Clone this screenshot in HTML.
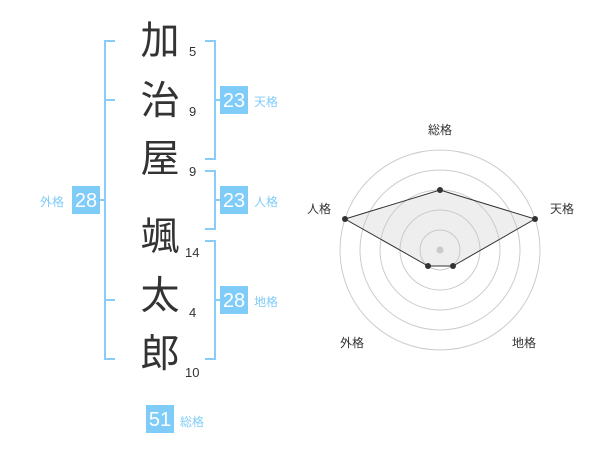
<!DOCTYPE html>
<html><head><meta charset="utf-8"><style>
body{margin:0;background:#fff;width:600px;height:470px;overflow:hidden;position:relative;font-family:"Liberation Sans","Noto Sans CJK JP",sans-serif}
.k{position:absolute;left:138px;width:44px;text-align:center;font-size:39px;line-height:44px;color:#333}
.n{position:absolute;font-size:13px;color:#333;line-height:14px}
.b{position:absolute;width:28px;height:28px;background:#80ccf8;color:#fff;font-size:20px;line-height:30px;text-align:center}
.l{position:absolute;font-size:12px;color:#80ccf8;line-height:14px}
</style></head><body>
<svg width="600" height="470" style="position:absolute;left:0;top:0">
<g stroke="#88cdf8" stroke-width="2" fill="none">
<path d="M205 41H215V159H205M215 100H220"/>
<path d="M205 171H215V229H205M215 200H220"/>
<path d="M205 241H215V359H205M215 300H220"/>
<path d="M115 41H105V359H115M105 100H115M105 300H115M105 200H100"/>
</g>
<g fill="none" stroke="#ccc" stroke-width="1">
<circle cx="440" cy="250" r="100"/><circle cx="440" cy="250" r="80"/><circle cx="440" cy="250" r="60"/><circle cx="440" cy="250" r="40"/><circle cx="440" cy="250" r="20"/>
</g>
<circle cx="440" cy="250" r="3.5" fill="#ccc"/>
<polygon points="440,190 535,219 453,266 428,266 345,219" fill="rgba(200,200,200,0.3)" stroke="#333" stroke-width="1"/>
<g fill="#333"><circle cx="440" cy="190" r="3"/><circle cx="535" cy="219" r="3"/><circle cx="453" cy="266" r="3"/><circle cx="428" cy="266" r="3"/><circle cx="345" cy="219" r="3"/></g>
<g font-size="12" fill="#333" text-anchor="middle" font-family="Liberation Sans, Noto Sans CJK JP, sans-serif">
<text x="440" y="134">総格</text><text x="562" y="213">天格</text><text x="319" y="213">人格</text><text x="524" y="347">地格</text><text x="352" y="347">外格</text>
</g>
</svg>
<div class="k" style="top:20px">加</div>
<div class="k" style="top:80px">治</div>
<div class="k" style="top:138px">屋</div>
<div class="k" style="top:216px">颯</div>
<div class="k" style="top:275px">太</div>
<div class="k" style="top:333px">郎</div>
<div class="n" style="left:189px;top:45px">5</div>
<div class="n" style="left:189px;top:105px">9</div>
<div class="n" style="left:189px;top:165px">9</div>
<div class="n" style="left:185px;top:246px">14</div>
<div class="n" style="left:189px;top:306px">4</div>
<div class="n" style="left:185px;top:366px">10</div>
<div class="b" style="left:220px;top:86px">23</div><div class="l" style="left:254px;top:95px">天格</div>
<div class="b" style="left:220px;top:186px">23</div><div class="l" style="left:254px;top:195px">人格</div>
<div class="b" style="left:220px;top:286px">28</div><div class="l" style="left:254px;top:295px">地格</div>
<div class="b" style="left:72px;top:186px">28</div><div class="l" style="left:40px;top:195px">外格</div>
<div class="b" style="left:146px;top:405px">51</div><div class="l" style="left:180px;top:415px">総格</div>
</body></html>
